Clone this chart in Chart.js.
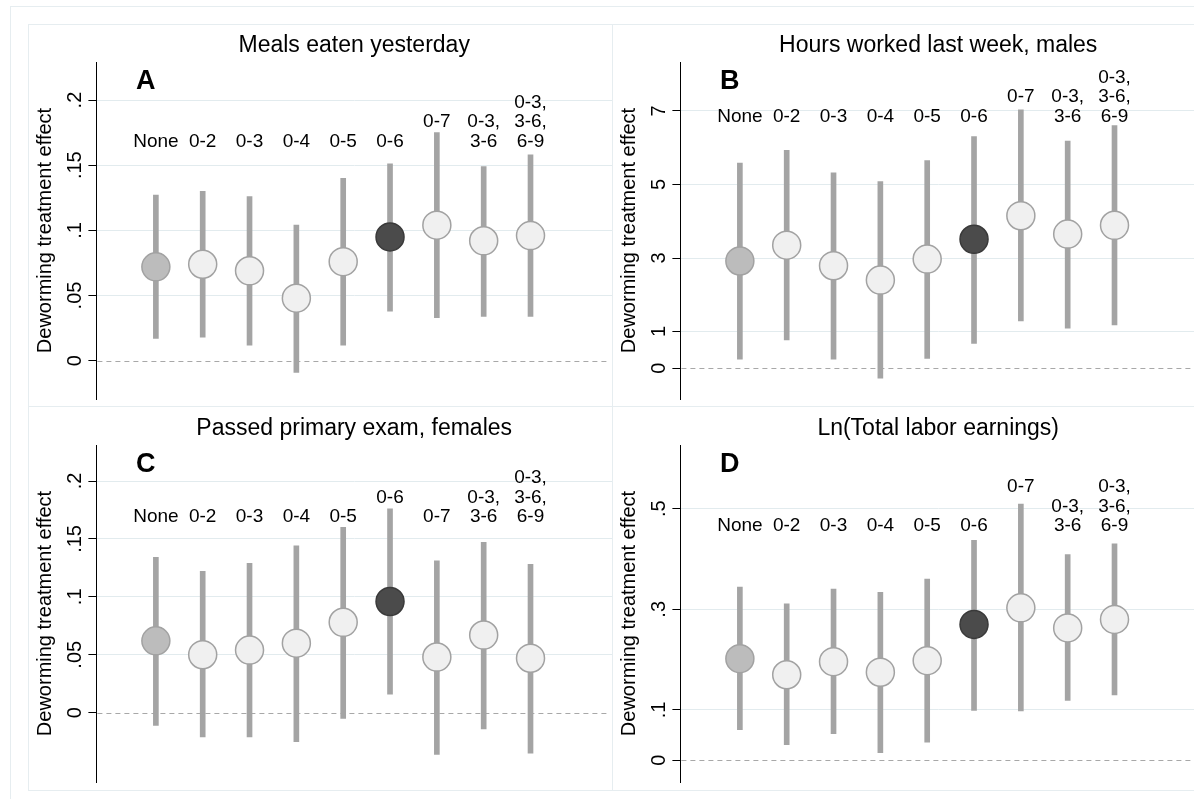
<!DOCTYPE html>
<html>
<head>
<meta charset="utf-8">
<script src="https://cdn.jsdelivr.net/npm/chart.js@4.4.1/dist/chart.umd.min.js"></script>
<style>
  html, body { margin: 0; padding: 0; background: #fff; overflow: hidden; }
  body { width: 1194px; height: 799px; position: relative; }
  .frame { position: absolute; border: 1px solid #e6edf0; box-sizing: border-box; }
  canvas { position: absolute; }
</style>
</head>
<body>
<div class="frame" style="left:10px;top:6px;width:1200px;height:800px;"></div>
<div class="frame" style="left:28px;top:24px;width:585px;height:383px;"></div>
<div class="frame" style="left:612px;top:24px;width:600px;height:383px;"></div>
<div class="frame" style="left:28px;top:406px;width:585px;height:385px;"></div>
<div class="frame" style="left:612px;top:406px;width:600px;height:385px;"></div>
<canvas id="panelA" width="584" height="383" style="left:28px;top:24px;"></canvas>
<canvas id="panelB" width="584" height="383" style="left:612px;top:24px;"></canvas>
<canvas id="panelC" width="584" height="383" style="left:28px;top:407px;"></canvas>
<canvas id="panelD" width="584" height="383" style="left:612px;top:407px;"></canvas>
<script>
// Treatment windows (years of deworming), one label line per array entry
const categories = [['None'], ['0-2'], ['0-3'], ['0-4'], ['0-5'], ['0-6'], ['0-7'], ['0-3,', '3-6'], ['0-3,', '3-6,', '6-9']];

// A: meals eaten yesterday
const mealsEst = [0.072, 0.074, 0.069, 0.048, 0.076, 0.095, 0.104, 0.092, 0.096];
const mealsLo = [0.017, 0.018, 0.012, -0.009, 0.012, 0.038, 0.033, 0.034, 0.034];
const mealsHi = [0.127, 0.130, 0.126, 0.104, 0.140, 0.151, 0.175, 0.149, 0.158];
const mealsTicks = [0, 0.05, 0.1, 0.15, 0.2];

// B: hours worked last week, males
const hoursEst = [2.92, 3.35, 2.79, 2.40, 2.97, 3.51, 4.15, 3.65, 3.89];
const hoursLo = [0.25, 0.77, 0.25, -0.27, 0.27, 0.68, 1.29, 1.09, 1.18];
const hoursHi = [5.58, 5.93, 5.32, 5.08, 5.65, 6.30, 7.03, 6.18, 6.60];
const hoursTicks = [0, 1, 3, 5, 7];

// C: passed primary exam, females
const examEst = [0.062, 0.050, 0.054, 0.060, 0.078, 0.096, 0.048, 0.067, 0.047];
const examLo = [-0.011, -0.021, -0.021, -0.025, -0.005, 0.016, -0.036, -0.014, -0.035];
const examHi = [0.134, 0.122, 0.129, 0.144, 0.160, 0.176, 0.131, 0.147, 0.128];
const examTicks = [0, 0.05, 0.1, 0.15, 0.2];

// D: ln(total labor earnings)
const earnEst = [0.202, 0.170, 0.196, 0.175, 0.198, 0.270, 0.303, 0.263, 0.280];
const earnLo = [0.061, 0.031, 0.053, 0.015, 0.036, 0.099, 0.098, 0.119, 0.130];
const earnHi = [0.344, 0.311, 0.340, 0.334, 0.360, 0.437, 0.509, 0.409, 0.430];
const earnTicks = [0, 0.1, 0.3, 0.5];

const FONT = "'Liberation Sans', Arial, Helvetica, sans-serif";

function fmt(v) {
    return String(v).replace(/^0\./, '.').replace(/^-0\./, '-.');
}

function markerFill(label) {
    if (label === 'None') return '#bcbcbc';
    if (label === '0-6') return '#4b4b4b';
    return '#f0f0f0';
}
function markerEdge(label) {
    if (label === '0-6') return '#3a3a3a';
    return '#a2a2a2';
}

// zero line, rotated tick labels, window labels, panel letter
const panelText = {
    id: 'panelText',
    beforeDatasetsDraw(chart) {
        const { ctx, chartArea, scales: { y } } = chart;
        const y0 = Math.round(y.getPixelForValue(0)) + 0.5;
        ctx.save();
        ctx.strokeStyle = '#a8a8a8';
        ctx.lineWidth = 1;
        ctx.setLineDash([5, 4]);
        ctx.beginPath();
        ctx.moveTo(chartArea.left + 1, y0);
        ctx.lineTo(chartArea.right - 2, y0);
        ctx.stroke();
        ctx.restore();
    },
    afterDraw(chart, args, opts) {
        const { ctx, chartArea, scales: { x, y } } = chart;
        ctx.save();
        ctx.fillStyle = '#000';

        // y tick labels, rotated
        ctx.font = '20px ' + FONT;
        ctx.textAlign = 'center';
        ctx.textBaseline = 'alphabetic';
        y.ticks.forEach(t => {
            ctx.save();
            ctx.translate(chartArea.left - 15, y.getPixelForValue(t.value));
            ctx.rotate(-Math.PI / 2);
            ctx.fillText(fmt(t.value), 0, 0);
            ctx.restore();
        });

        // window labels above the intervals
        ctx.font = '19px ' + FONT;
        const lineH = 19.5;
        ctx.textBaseline = 'middle';
        const rowY = y.getPixelForValue(opts.labelRow);
        categories.forEach((lines, i) => {
            const px = x.getPixelForValue(i + 1);
            const top = y.getPixelForValue(opts.hi[i]);
            let base = rowY;
            while (base + 6.5 > top - 2) base -= lineH;
            lines.forEach((txt, k) => {
                ctx.fillText(txt, px, base - (lines.length - 1 - k) * lineH);
            });
        });

        // panel letter
        ctx.font = 'bold 27px ' + FONT;
        ctx.textAlign = 'left';
        ctx.textBaseline = 'alphabetic';
        ctx.fillText(opts.letter, chartArea.left + 39.5, chartArea.top + 27.3);
        ctx.restore();
    }
};

function makePanel(id, title, letter, est, lo, hi, ticks, yMin, yMax, labelRow) {
    const names = categories.map(c => c.join(''));
    new Chart(document.getElementById(id), {
        type: 'bar',
        data: {
            datasets: [
                {
                    type: 'scatter',
                    data: est.map((v, i) => ({ x: i + 1, y: v })),
                    pointRadius: 14,
                    pointHoverRadius: 14,
                    pointBorderWidth: 1.5,
                    pointBackgroundColor: names.map(markerFill),
                    pointBorderColor: names.map(markerEdge),
                    clip: false,
                    order: 1
                },
                {
                    type: 'bar',
                    data: lo.map((v, i) => ({ x: i + 1, y: [v, hi[i]] })),
                    backgroundColor: '#a4a4a4',
                    borderWidth: 0,
                    barThickness: 5,
                    order: 2
                }
            ]
        },
        options: {
            responsive: false,
            animation: false,
            events: [],
            layout: { autoPadding: false, padding: { left: 0, right: 0, top: 0, bottom: 8 } },
            scales: {
                x: {
                    type: 'linear',
                    min: -0.27,
                    max: 10.74,
                    offset: false,
                    display: false
                },
                y: {
                    min: yMin,
                    max: yMax,
                    afterBuildTicks: s => { s.ticks = ticks.map(v => ({ value: v })); },
                    afterFit: s => { s.width = 68.4; },
                    ticks: { display: false },
                    grid: {
                        color: c => (c.tick && c.tick.value === 0) ? 'rgba(0,0,0,0)' : '#e2ebee',
                        tickColor: '#000',
                        tickLength: 8,
                        lineWidth: 1
                    },
                    border: { color: '#000', width: 1 },
                    title: {
                        display: true,
                        text: 'Deworming treatment effect',
                        color: '#000',
                        font: { family: FONT, size: 20 },
                        padding: { top: 5, bottom: 0 }
                    }
                }
            },
            plugins: {
                legend: { display: false },
                tooltip: { enabled: false },
                title: {
                    display: true,
                    text: title,
                    fullSize: false,
                    color: '#000',
                    font: { family: FONT, size: 23, weight: 'normal' },
                    padding: { top: 7.5, bottom: 2.9 }
                },
                panelText: { letter: letter, hi: hi, labelRow: labelRow }
            }
        },
        plugins: [panelText]
    });
}

makePanel('panelA', 'Meals eaten yesterday', 'A', mealsEst, mealsLo, mealsHi, mealsTicks, -0.0294, 0.2292, 0.168);
makePanel('panelB', 'Hours worked last week, males', 'B', hoursEst, hoursLo, hoursHi, hoursTicks, -0.835, 8.332, 6.845);
makePanel('panelC', 'Passed primary exam, females', 'C', examEst, examLo, examHi, examTicks, -0.0599, 0.2311, 0.1687);
makePanel('panelD', 'Ln(Total labor earnings)', 'D', earnEst, earnLo, earnHi, earnTicks, -0.0431, 0.6265, 0.4655);
</script>
</body>
</html>
